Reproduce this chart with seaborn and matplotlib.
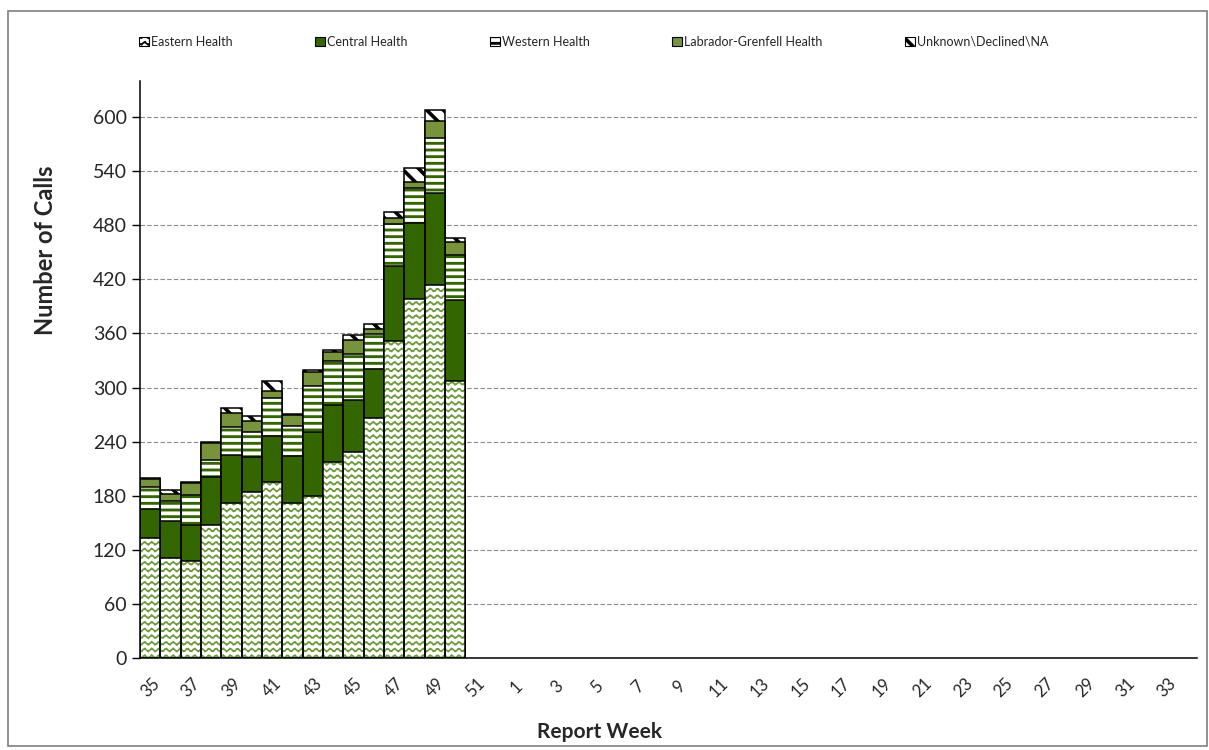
import numpy as np
import pandas as pd
import matplotlib
matplotlib.use('Agg')
import matplotlib.pyplot as plt
import matplotlib.hatch as mhatch
from matplotlib.path import Path
from matplotlib.patches import Patch, Rectangle
import seaborn as sns

# Data
weeks = [str(w) for w in list(range(35, 53)) + list(range(1, 35))]
data_weeks = weeks[:16]
eastern = [133, 111, 108, 148, 172, 184, 195, 172, 180, 217, 229, 266, 352, 398, 414, 307]
central = [32, 41, 40, 53, 53, 39, 51, 52, 71, 64, 57, 55, 83, 85, 102, 90]
western = [25, 22, 33, 19, 31, 28, 42, 33, 51, 48, 51, 38, 46, 38, 61, 50]
labrador = [8, 8, 13, 18, 16, 12, 8, 12, 15, 10, 16, 6, 7, 7, 19, 14]
unknown = [2, 4, 1, 2, 5, 5, 11, 2, 2, 3, 5, 5, 7, 15, 12, 5]
series_names = ['Eastern Health', 'Central Health', 'Western Health',
                'Labrador-Grenfell Health', 'Unknown\\Declined\\NA']
y_ticks = list(range(0, 601, 60))


# custom hatches: waves ('o'), thick stripes ('O'), thick diagonal ('*')
class WaveHatch(mhatch.HatchPatternBase):
    def __init__(self, hatch, density):
        self.num_lines = int(hatch.count('o') * 5)
        self.steps = 60
        self.num_vertices = self.num_lines * (self.steps + 1)

    def set_vertices_and_codes(self, vertices, codes):
        n = self.steps + 1
        xs = np.linspace(0, 1, n)
        for i in range(self.num_lines):
            sl = slice(i * n, (i + 1) * n)
            vertices[sl, 0] = xs
            vertices[sl, 1] = (i + 0.5) / self.num_lines + 0.016 * np.sin(2 * np.pi * 14 * xs)
            codes[sl] = Path.LINETO
            codes[i * n] = Path.MOVETO


class StripeHatch(mhatch.HatchPatternBase):
    def __init__(self, hatch, density):
        self.num_bands = int(hatch.count('O') * 5)
        self.offsets = [-0.006, 0.006]
        self.num_vertices = self.num_bands * len(self.offsets) * 2

    def set_vertices_and_codes(self, vertices, codes):
        k = 0
        for i in range(self.num_bands):
            y0 = (i + 0.5) / self.num_bands
            for d in self.offsets:
                vertices[k] = (0, y0 + d)
                vertices[k + 1] = (1, y0 + d)
                codes[k] = Path.MOVETO
                codes[k + 1] = Path.LINETO
                k += 2


class ThickDiagHatch(mhatch.HatchPatternBase):
    def __init__(self, hatch, density):
        self.n = int(hatch.count('*') * 6)
        self.offsets = [-0.014, 0.0, 0.014]
        self.num_vertices = (2 * self.n + 1) * len(self.offsets) * 2 if self.n else 0

    def set_vertices_and_codes(self, vertices, codes):
        k = 0
        for j in range(2 * self.n + 1):
            b = j / self.n
            for d in self.offsets:
                vertices[k] = (b + d - 1, 1)
                vertices[k + 1] = (b + d, 0)
                codes[k] = Path.MOVETO
                codes[k + 1] = Path.LINETO
                k += 2


types = mhatch._hatch_types
types[types.index(mhatch.SmallCircles)] = WaveHatch
types[types.index(mhatch.LargeCircles)] = StripeHatch
types[types.index(mhatch.Stars)] = ThickDiagHatch

sns.set_style('white')
plt.rcParams['font.family'] = ['Lato', 'DejaVu Sans']
plt.rcParams['hatch.linewidth'] = 1.2

dark_green = '#336600'
olive = '#77933C'
wave_green = '#6E9A3C'

df = pd.DataFrame({'week': data_weeks, 'eastern': eastern, 'central': central,
                   'western': western, 'labrador': labrador, 'unknown': unknown})
cols = ['eastern', 'central', 'western', 'labrador', 'unknown']
cum = df[cols].cumsum(axis=1)
for c in cols:
    df['cum_' + c] = cum[c]

# (face, hatch, hatch colour) per series
styles = {
    'eastern': ('white', 'ooo', wave_green),
    'central': (dark_green, None, None),
    'western': ('white', 'OOO', dark_green),
    'labrador': (olive, None, None),
    'unknown': ('white', '*', 'black'),
}

fig = plt.figure(figsize=(12.09, 7.5), dpi=100)
ax = fig.add_axes([140 / 1209, 1 - 658 / 750, (1197 - 140) / 1209, (658 - 81) / 750])

# tallest stack first, shorter ones on top
for c in reversed(cols):
    face, hatch, hcol = styles[c]
    kw = dict(data=df, x='week', y='cum_' + c, order=weeks, ax=ax, width=1.0,
              errorbar=None, saturation=1)
    if hatch:
        sns.barplot(**kw, color=face, edgecolor=hcol, linewidth=0, hatch=hatch)
    else:
        sns.barplot(**kw, color=face, linewidth=0)
    sns.barplot(**kw, color='black', fill=False, linewidth=1.1)

ax.set_xlim(-0.5, len(weeks) - 0.5)
ax.set_ylim(0, 640)
ax.set_yticks(y_ticks)
ax.set_yticklabels([str(t) for t in y_ticks], fontsize=14)
ax.yaxis.grid(True, linestyle=(0, (4, 2)), color='#8c8c8c', linewidth=0.8)
ax.xaxis.grid(False)
ax.set_axisbelow(True)

ax.set_xticks(np.arange(-0.5, len(weeks), 1))
ax.set_xticklabels([])
ax.set_xticks(np.arange(0, len(weeks), 2), weeks[::2], minor=True)
ax.tick_params(axis='x', which='major', direction='out', length=4, width=1, color='black')
ax.tick_params(axis='x', which='minor', length=0, pad=21, labelsize=12, labelrotation=45)
for lbl in ax.get_xticklabels(minor=True):
    lbl.set_ha('center')
    lbl.set_va('center')
ax.tick_params(axis='y', direction='out', length=6, width=1, color='black', left=True)

for s in ['top', 'right']:
    ax.spines[s].set_visible(False)
for s in ['left', 'bottom']:
    ax.spines[s].set_color('black')
    ax.spines[s].set_linewidth(1.1)

ax.set_xlabel('Report Week', fontsize=15, fontweight='bold')
ax.set_ylabel('Number of Calls', fontsize=17, fontweight='bold')
ax.xaxis.set_label_coords((600 - 140) / 1057, (658 - 722) / 577)
ax.yaxis.set_label_coords((57 - 140) / 1057, (658 - 250) / 577)

handles = [
    Patch(facecolor='white', edgecolor='black', hatch='ooo', linewidth=0.8),
    Patch(facecolor=dark_green, edgecolor='black', linewidth=0.8),
    Patch(facecolor='white', edgecolor='black', hatch='OOO', linewidth=0.8),
    Patch(facecolor=olive, edgecolor='black', linewidth=0.8),
    Patch(facecolor='white', edgecolor='black', hatch='*', linewidth=0.8),
]
fig.legend(handles, series_names, loc='center left', bbox_to_anchor=(128 / 1209, 1 - 42 / 750),
           ncol=5, frameon=False, fontsize=9, handlelength=0.8, handleheight=0.8,
           handletextpad=0.15, columnspacing=6.6)

fig.patches.append(Rectangle((8 / 1209, 4 / 750), 1199 / 1209, 735 / 750,
                             transform=fig.transFigure, fill=False,
                             edgecolor='#7f7f7f', linewidth=1.2))

fig.savefig('out.png', dpi=100)
